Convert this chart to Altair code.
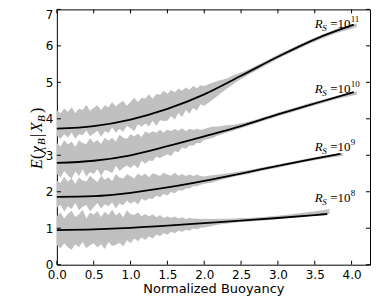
import altair as alt
import pandas as pd

# ---------------- data ----------------
series = ["1e11", "1e10", "1e9", "1e8"]
exponents = ["11", "10", "9", "8"]

# mean curves (black lines)
line_x_11 = [0.0, 0.5, 1.0, 1.5, 2.0, 2.5, 3.0, 3.5, 4.03]
line_y_11 = [3.73, 3.80, 3.98, 4.27, 4.67, 5.18, 5.70, 6.18, 6.58]
line_x_10 = [0.0, 0.5, 1.0, 1.5, 2.0, 2.5, 3.0, 3.5, 4.03]
line_y_10 = [2.79, 2.85, 3.00, 3.25, 3.52, 3.80, 4.12, 4.42, 4.73]
line_x_9 = [0.0, 0.5, 1.0, 1.5, 2.0, 2.5, 3.0, 3.5, 3.85]
line_y_9 = [1.86, 1.88, 1.97, 2.12, 2.30, 2.50, 2.71, 2.91, 3.04]
line_x_8 = [0.0, 0.5, 1.0, 1.5, 2.0, 2.5, 3.0, 3.5, 3.67]
line_y_8 = [0.95, 0.97, 1.01, 1.07, 1.14, 1.21, 1.28, 1.36, 1.39]

# grey noisy bands
fine_x = [0.00, 0.05, 0.10, 0.15, 0.20, 0.25, 0.30, 0.35, 0.40, 0.45,
          0.50, 0.55, 0.60, 0.65, 0.70, 0.75, 0.80, 0.85, 0.90, 0.95,
          1.00, 1.05, 1.10, 1.15, 1.20, 1.25, 1.30, 1.35, 1.40, 1.45,
          1.50, 1.55, 1.60, 1.65, 1.70, 1.75, 1.80, 1.85, 1.90, 1.95, 2.00]
tail_x_11 = [2.1, 2.2, 2.3, 2.4, 2.5, 2.6, 2.8, 3.0, 3.2, 3.4, 3.6, 3.8, 4.0, 4.07]
tail_x_10 = [2.1, 2.2, 2.3, 2.4, 2.5, 2.6, 2.8, 3.0, 3.2, 3.4, 3.6, 3.8, 4.0, 4.07]
tail_x_9 = [2.1, 2.2, 2.3, 2.4, 2.5, 2.6, 2.8, 3.0, 3.2, 3.4, 3.6, 3.8, 3.88]
tail_x_8 = [2.1, 2.2, 2.3, 2.4, 2.5, 2.6, 2.8, 3.0, 3.2, 3.4, 3.6, 3.7]

hi_11 = [4.23, 4.15, 4.28, 4.19, 4.32, 4.15, 4.28, 4.24, 4.38, 4.22,
         4.30, 4.37, 4.24, 4.37, 4.32, 4.46, 4.34, 4.43, 4.49, 4.36,
         4.47, 4.58, 4.46, 4.58, 4.56, 4.67, 4.55, 4.68, 4.66, 4.77,
         4.69, 4.79, 4.73, 4.83, 4.77, 4.86, 4.80, 4.90, 4.84, 4.92, 4.90,
         4.98, 5.05, 5.10, 5.20, 5.27, 5.35, 5.55, 5.76, 5.95, 6.13, 6.31, 6.47, 6.59, 6.61]
lo_11 = [3.53, 3.45, 3.58, 3.49, 3.62, 3.45, 3.58, 3.55, 3.68, 3.52,
         3.60, 3.67, 3.51, 3.66, 3.61, 3.76, 3.62, 3.72, 3.64, 3.80,
         3.74, 3.66, 3.85, 3.78, 3.87, 3.79, 3.95, 3.80, 3.96, 3.94,
         3.95, 4.08, 3.98, 4.16, 4.05, 4.24, 4.14, 4.30, 4.22, 4.40, 4.36,
         4.50, 4.66, 4.82, 4.96, 5.09, 5.21, 5.43, 5.65, 5.84, 6.03, 6.20, 6.35, 6.47, 6.52]

hi_10 = [3.34, 3.24, 3.41, 3.30, 3.38, 3.23, 3.41, 3.34, 3.31, 3.47,
         3.35, 3.42, 3.31, 3.48, 3.40, 3.48, 3.38, 3.56, 3.48, 3.45,
         3.58, 3.52, 3.59, 3.50, 3.66, 3.60, 3.66, 3.62, 3.70, 3.62,
         3.71, 3.66, 3.72, 3.67, 3.74, 3.66, 3.73, 3.69, 3.73, 3.69, 3.72,
         3.78, 3.79, 3.82, 3.84, 3.88, 3.92, 4.04, 4.17, 4.29, 4.41, 4.52, 4.63, 4.73, 4.75]
lo_10 = [2.49, 2.39, 2.57, 2.45, 2.35, 2.56, 2.43, 2.62, 2.41, 2.54,
         2.49, 2.62, 2.43, 2.60, 2.57, 2.51, 2.71, 2.57, 2.66, 2.72,
         2.65, 2.74, 2.64, 2.85, 2.77, 2.86, 2.84, 2.97, 2.92, 2.98,
         3.03, 2.98, 3.12, 3.08, 3.21, 3.18, 3.27, 3.26, 3.34, 3.34, 3.42,
         3.47, 3.55, 3.62, 3.68, 3.74, 3.81, 3.94, 4.07, 4.19, 4.31, 4.43, 4.54, 4.63, 4.66]

hi_9 = [2.31, 2.24, 2.41, 2.28, 2.37, 2.22, 2.39, 2.31, 2.28, 2.44,
        2.34, 2.27, 2.43, 2.33, 2.40, 2.29, 2.49, 2.39, 2.36, 2.48,
        2.43, 2.36, 2.50, 2.43, 2.50, 2.40, 2.51, 2.47, 2.43, 2.52,
        2.47, 2.44, 2.52, 2.44, 2.49, 2.43, 2.47, 2.43, 2.47, 2.43, 2.42,
        2.45, 2.47, 2.50, 2.53, 2.56, 2.59, 2.67, 2.75, 2.83, 2.91, 2.98, 3.04, 3.06]
lo_9 = [1.56, 1.64, 1.46, 1.60, 1.53, 1.69, 1.49, 1.59, 1.64, 1.46,
        1.58, 1.69, 1.54, 1.66, 1.60, 1.71, 1.54, 1.68, 1.63, 1.76,
        1.67, 1.74, 1.65, 1.81, 1.75, 1.82, 1.80, 1.89, 1.85, 1.94,
        1.90, 1.99, 1.96, 2.05, 2.03, 2.09, 2.09, 2.15, 2.15, 2.19, 2.22,
        2.25, 2.31, 2.36, 2.41, 2.45, 2.49, 2.58, 2.66, 2.75, 2.83, 2.90, 2.96, 2.98]

hi_8 = [1.33, 1.43, 1.27, 1.40, 1.48, 1.31, 1.38, 1.51, 1.27, 1.43,
        1.37, 1.47, 1.31, 1.45, 1.36, 1.51, 1.35, 1.44, 1.30, 1.49,
        1.39, 1.36, 1.44, 1.33, 1.39, 1.32, 1.38, 1.30, 1.36, 1.28,
        1.33, 1.28, 1.32, 1.27, 1.30, 1.25, 1.29, 1.26, 1.27, 1.25, 1.26,
        1.25, 1.26, 1.26, 1.27, 1.28, 1.28, 1.31, 1.34, 1.39, 1.44, 1.49, 1.53]
lo_8 = [0.53, 0.45, 0.59, 0.48, 0.41, 0.56, 0.48, 0.63, 0.45, 0.53,
        0.59, 0.47, 0.56, 0.43, 0.62, 0.51, 0.55, 0.60, 0.50, 0.67,
        0.59, 0.72, 0.64, 0.75, 0.68, 0.78, 0.72, 0.83, 0.78, 0.86,
        0.82, 0.90, 0.86, 0.93, 0.90, 0.96, 0.93, 0.99, 0.97, 1.01, 1.02,
        1.06, 1.10, 1.12, 1.15, 1.17, 1.18, 1.21, 1.25, 1.29, 1.33, 1.37, 1.40]

# label anchors (data coordinates)
label_x = [3.5, 3.5, 3.5, 3.5]
label_y = [6.49, 4.71, 3.13, 1.73]

x_ticks = [0.0, 0.5, 1.0, 1.5, 2.0, 2.5, 3.0, 3.5, 4.0]
y_ticks = [0, 1, 2, 3, 4, 5, 6, 7]

# ---------------- tables ----------------
band_sets = [
    ("1e11", fine_x + tail_x_11, lo_11, hi_11),
    ("1e10", fine_x + tail_x_10, lo_10, hi_10),
    ("1e9", fine_x + tail_x_9, lo_9, hi_9),
    ("1e8", fine_x + tail_x_8, lo_8, hi_8),
]
band_rows = []
for name, xs, lo, hi in band_sets:
    for xv, lv, hv in zip(xs, lo, hi):
        band_rows.append({"series": name, "x": xv, "lo": lv, "hi": hv})
band_df = pd.DataFrame(band_rows)

line_sets = [
    ("1e11", line_x_11, line_y_11),
    ("1e10", line_x_10, line_y_10),
    ("1e9", line_x_9, line_y_9),
    ("1e8", line_x_8, line_y_8),
]
line_rows = []
for name, xs, ys in line_sets:
    for xv, yv in zip(xs, ys):
        line_rows.append({"series": name, "x": xv, "y": yv})
line_df = pd.DataFrame(line_rows)

label_df = pd.DataFrame({"series": series, "x": label_x, "y": label_y, "exp": exponents})
xt_df = pd.DataFrame({"x": x_ticks})
yt_df = pd.DataFrame({"y": y_ticks})
one_df = pd.DataFrame({"a": [0]})

# ---------------- chart ----------------
W, H = 314, 256
xscale = alt.Scale(domain=[0, 4.25], nice=False, zero=False)
yscale = alt.Scale(domain=[0, 7], nice=False, zero=False)
SANS = "DejaVu Sans"
SERIF = "Liberation Serif"

x_axis = alt.Axis(values=x_ticks, format=".1f", tickSize=0, domain=False, grid=False,
                  labelFont=SANS, labelFontSize=12, labelColor="black", labelPadding=5,
                  labelFlush=False, labelOverlap=False,
                  title="Normalized Buoyancy", titleFont=SANS, titleFontSize=13,
                  titleFontWeight="normal", titleColor="black", titlePadding=2)
y_axis = alt.Axis(values=y_ticks, format="d", tickSize=0, domain=False, grid=False,
                  labelFont=SANS, labelFontSize=12, labelColor="black", labelPadding=4,
                  labelFlush=False, labelOverlap=False, title="",
                  labelBaseline=alt.condition("datum.value == 7", alt.value("top"), alt.value("middle")))

X = lambda f="x": alt.X(f"{f}:Q", scale=xscale, axis=x_axis)
Y = lambda f="y": alt.Y(f"{f}:Q", scale=yscale, axis=y_axis)

bands = alt.Chart(band_df).mark_area(color="#c0c0c0", opacity=1).encode(
    x=X(), y=Y("lo"), y2="hi:Q", detail="series:N",
)

lines = alt.Chart(line_df).mark_line(color="black", strokeWidth=1.8, interpolate="monotone").encode(
    x=X(), y=Y(), detail="series:N",
)

def lab(text_kwargs, enc_text=None):
    m = alt.Chart(label_df).mark_text(align="left", baseline="alphabetic", font=SERIF,
                                      color="black", **text_kwargs)
    enc = dict(x=X(), y=Y())
    if enc_text is not None:
        enc["text"] = enc_text
    return m.encode(**enc)

lab_R = lab(dict(text="R", fontSize=13, fontStyle="italic"))
lab_S = lab(dict(text="S", fontSize=9, fontStyle="italic", dx=7.5, dy=3))
lab_eq = lab(dict(text="=10", fontSize=13, dx=15.5))
lab_exp = lab(dict(fontSize=9, dx=36, dy=-6), enc_text="exp:N")

tick_b = alt.Chart(xt_df).mark_rule(color="black", strokeWidth=1).encode(
    x=X(), y=alt.value(H), y2=alt.value(H - 4))
tick_t = alt.Chart(xt_df).mark_rule(color="black", strokeWidth=1).encode(
    x=X(), y=alt.value(0), y2=alt.value(4))
tick_l = alt.Chart(yt_df).mark_rule(color="black", strokeWidth=1).encode(
    y=Y(), x=alt.value(0), x2=alt.value(4))
tick_r = alt.Chart(yt_df).mark_rule(color="black", strokeWidth=1).encode(
    y=Y(), x=alt.value(W), x2=alt.value(W - 4))

# y-axis title E(chi_B | X_B), composed of pieces, rotated
def ytitle(text, size, style, dx, dy=0):
    return alt.Chart(one_df).mark_text(text=text, font=SERIF, fontSize=size, fontStyle=style,
                                       angle=270, align="left", baseline="alphabetic",
                                       color="black", dx=dx, dy=dy).encode(
        x=alt.value(-15), y=alt.value(160))

yt_parts = [
    ytitle("E", 16, "italic", 0),
    ytitle("(", 16, "normal", 10),
    ytitle("χ", 16, "italic", 16),
    ytitle("B", 11, "italic", 24, 3),
    ytitle("|", 16, "normal", 32),
    ytitle("X", 16, "italic", 37),
    ytitle("B", 11, "italic", 47, 3),
    ytitle(")", 16, "normal", 56),
]

chart = alt.layer(
    bands, lines, lab_R, lab_S, lab_eq, lab_exp,
    tick_b, tick_t, tick_l, tick_r, *yt_parts
).properties(
    width=W, height=H,
    autosize=alt.AutoSizeParams(type="none"),
    padding={"left": 49, "top": 1, "right": 4, "bottom": 34},
).configure_view(stroke="black", strokeWidth=1)

chart.save("out.html", embed_options={"renderer": "svg", "actions": False})
